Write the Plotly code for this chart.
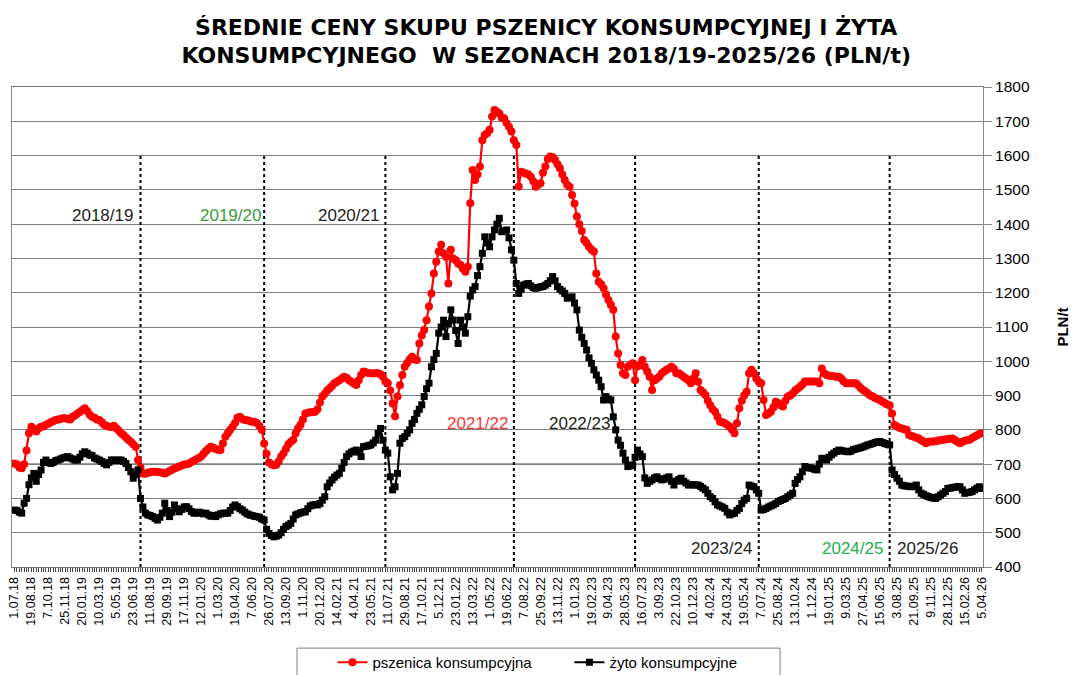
import pandas as pd
import plotly.graph_objects as go

# ---------------- data ----------------
MISSING_WEEKS = ['30.12.18', '21.04.19', '29.12.19', '27.12.20', '31.12.23', '31.03.24']

TICK_LABELS = [
    '1.07.18', '19.08.18', '7.10.18', '25.11.18', '20.01.19', '10.03.19', '5.05.19', '23.06.19',
    '11.08.19', '29.09.19', '17.11.19', '12.01.20', '1.03.20', '19.04.20', '7.06.20', '26.07.20',
    '13.09.20', '1.11.20', '20.12.20', '14.02.21', '4.04.21', '23.05.21', '11.07.21', '29.08.21',
    '17.10.21', '5.12.21', '23.01.22', '13.03.22', '1.05.22', '19.06.22', '7.08.22', '25.09.22',
    '13.11.22', '1.01.23', '19.02.23', '9.04.23', '28.05.23', '16.07.23', '3.09.23', '22.10.23',
    '10.12.23', '4.02.24', '24.03.24', '19.05.24', '7.07.24', '25.08.24', '13.10.24', '1.12.24',
    '19.01.25', '9.03.25', '27.04.25', '15.06.25', '3.08.25', '21.09.25', '9.11.25', '28.12.25',
    '15.02.26', '5.04.26',
]

WHEAT = [
    702, 700, 690, 688, 700, 740, 790, 809, 800, 795,
    805, 809, 810, 815, 818, 822, 825, 829, 830, 832,
    834, 834, 832, 830, 838, 842, 848, 852, 858, 863,
    855, 845, 838, 835, 830, 829, 822, 815, 812, 809,
    808, 812, 805, 798, 790, 785, 778, 771, 765, 758,
    751, 712, 690, 673, 672, 675, 676, 678, 678, 677,
    676, 675, 673, 676, 680, 684, 687, 690, 693, 696,
    699, 700, 702, 706, 710, 714, 717, 722, 730, 738,
    745, 751, 748, 744, 742, 741, 760, 780, 790, 800,
    809, 820, 835, 838, 832, 829, 828, 826, 824, 824,
    820, 812, 800, 760, 730, 705, 700, 697, 698, 708,
    722, 732, 745, 758, 765, 771, 790, 805, 815, 830,
    848, 850, 851, 852, 853, 860, 880, 897, 905, 915,
    921, 928, 936, 940, 945, 950, 955, 952, 945, 940,
    935, 931, 945, 960, 970, 968, 966, 965, 965, 965,
    965, 962, 955, 941, 936, 915, 877, 840, 897, 930,
    960, 984, 995, 1005, 1013, 1005, 1004, 1052, 1075, 1091,
    1120, 1160, 1198, 1256, 1290, 1320, 1340, 1315, 1305, 1227,
    1325, 1300, 1295, 1285, 1281, 1270, 1261, 1276, 1461, 1558,
    1529, 1545, 1568, 1645, 1660, 1665, 1675, 1714, 1733, 1728,
    1723, 1710, 1709, 1695, 1684, 1670, 1645, 1631, 1510, 1553,
    1550, 1548, 1545, 1538, 1525, 1509, 1515, 1519, 1550, 1568,
    1590, 1597, 1595, 1587, 1575, 1563, 1545, 1529, 1515, 1509,
    1485, 1460, 1422, 1400, 1380, 1354, 1345, 1334, 1325, 1320,
    1256, 1232, 1225, 1213, 1195, 1179, 1165, 1150, 1072, 1023,
    989, 965, 960, 984, 990, 994, 945, 985, 990, 1004,
    984, 970, 955, 916, 945, 950, 955, 965, 970, 975,
    979, 984, 978, 965, 965, 960, 955, 950, 945, 936,
    950, 965, 940, 916, 910, 902, 885, 872, 860, 853,
    838, 824, 822, 819, 815, 809, 800, 790, 819, 863,
    885, 900, 911, 965, 975, 965, 950, 940, 936, 887,
    843, 848, 853, 865, 882, 878, 872, 868, 885, 897,
    900, 906, 915, 920, 926, 932, 941, 941, 941, 941,
    941, 941, 936, 979, 965, 960, 958, 957, 956, 955,
    955, 950, 942, 936, 936, 936, 936, 936, 930, 922,
    916, 912, 906, 900, 897, 893, 890, 887, 882, 878,
    874, 872, 848, 814, 810, 806, 804, 802, 800, 785,
    782, 780, 777, 775, 770, 766, 761, 765, 766, 766,
    767, 769, 770, 771, 772, 773, 774, 775, 770, 765,
    761, 765, 768, 770, 771, 776, 780, 784, 788, 790,
]

RYE = [
    566, 565, 560, 557, 586, 600, 640, 660, 673, 650,
    670, 683, 705, 712, 705, 702, 705, 710, 712, 715,
    718, 720, 722, 718, 715, 712, 712, 720, 730, 736,
    732, 727, 725, 718, 715, 712, 708, 702, 698, 705,
    712, 712, 710, 712, 712, 708, 702, 690, 678, 659,
    670, 683, 600, 575, 557, 552, 550, 547, 542, 537,
    545, 557, 586, 565, 547, 560, 581, 570, 561, 568,
    575, 576, 570, 562, 557, 557, 560, 558, 555, 557,
    552, 548, 550, 547, 552, 555, 557, 557, 557, 565,
    575, 581, 576, 570, 566, 560, 555, 552, 550, 548,
    547, 545, 540, 537, 510, 498, 492, 488, 490, 493,
    500, 510, 518, 522, 527, 540, 552, 555, 558, 560,
    561, 570, 578, 581, 582, 581, 585, 595, 605, 634,
    645, 654, 662, 668, 673, 688, 705, 722, 730, 735,
    738, 741, 735, 722, 751, 752, 754, 756, 762, 770,
    790, 804, 770, 741, 732, 663, 625, 634, 673, 761,
    775, 780, 790, 800, 819, 830, 848, 860, 873, 897,
    920, 936, 984, 1005, 1023, 1082, 1100, 1120, 1072, 1110,
    1150, 1120, 1090, 1052, 1120, 1100, 1082, 1130, 1190, 1208,
    1218, 1250, 1276, 1315, 1363, 1345, 1334, 1363, 1383, 1400,
    1417, 1378, 1380, 1383, 1360, 1325, 1295, 1227, 1198, 1210,
    1222, 1225, 1227, 1220, 1215, 1213, 1215, 1217, 1218, 1222,
    1227, 1235, 1247, 1235, 1218, 1210, 1205, 1198, 1184, 1186,
    1188, 1170, 1150, 1091, 1070, 1052, 1033, 1010, 994, 975,
    960, 945, 926, 887, 897, 890, 887, 838, 800, 770,
    755, 732, 712, 693, 695, 698, 720, 741, 730, 722,
    660, 644, 650, 654, 660, 663, 658, 654, 656, 660,
    663, 650, 639, 650, 655, 659, 650, 645, 639, 640,
    640, 639, 639, 635, 630, 625, 615, 605, 600, 590,
    581, 578, 575, 571, 560, 552, 555, 557, 565, 571,
    585, 595, 600, 639, 636, 634, 625, 615, 566, 568,
    571, 575, 578, 581, 585, 591, 594, 597, 600, 605,
    610, 615, 644, 655, 663, 678, 693, 690, 689, 688,
    685, 683, 700, 717, 715, 712, 720, 727, 732, 737,
    741, 740, 738, 737, 736, 738, 742, 744, 746, 748,
    750, 753, 756, 758, 760, 763, 765, 766, 763, 760,
    758, 756, 683, 670, 659, 650, 639, 637, 636, 635,
    634, 636, 639, 625, 615, 612, 608, 605, 603, 601,
    600, 605, 610, 615, 620, 629, 630, 632, 633, 634,
    634, 625, 615, 617, 618, 620, 625, 630, 634, 629,
]

SEASON_LINE_WEEKS = ['14.07.19', '12.07.20', '4.07.21', '10.07.22', '25.06.23', '30.06.24', '13.07.25']

SEASON_LABELS = ['2018/19', '2019/20', '2020/21', '2021/22', '2022/23', '2023/24', '2024/25', '2025/26']
SEASON_LABEL_POS = [36.5, 89.3, 137.6, 190.8, 232.9, 291.8, 345.5, 376.8]
SEASON_LABEL_LEVELS = [1424, 1424, 1424, 820, 820, 455, 455, 455]
SEASON_LABEL_COLORS = ['#222222', '#3a9a3a', '#222222', '#ff3333', '#222222', '#222222', '#22b04a', '#222222']

SERIES_NAMES = ['pszenica konsumpcyjna', 'żyto konsumpcyjne']

# ---------------- categories ----------------
def fmt(d):
    return f"{d.day}.{d.month:02d}.{d.year % 100:02d}"

DATES = [fmt(d) for d in pd.date_range('2018-07-01', '2026-04-05', freq='7D') if fmt(d) not in MISSING_WEEKS]
IDX = {d: i for i, d in enumerate(DATES)}

FONT = 'Liberation Sans, Arial, sans-serif'

fig = go.Figure()
fig.add_trace(go.Scatter(
    x=DATES, y=WHEAT, name=SERIES_NAMES[0], mode='lines+markers',
    line=dict(color='#ff0000', width=2.2),
    marker=dict(symbol='circle', size=8, color='#ff0000'),
))
fig.add_trace(go.Scatter(
    x=DATES, y=RYE, name=SERIES_NAMES[1], mode='lines+markers',
    line=dict(color='#000000', width=2.2),
    marker=dict(symbol='square', size=7, color='#000000'),
))

# season separators (dotted verticals)
for wk in SEASON_LINE_WEEKS:
    fig.add_shape(type='line', xref='x', yref='y', x0=IDX[wk], x1=IDX[wk], y0=400, y1=1600,
                  line=dict(color='#000000', width=2, dash='dot'), layer='between')
# black reference line at 700
fig.add_shape(type='line', xref='paper', yref='y', x0=0, x1=1, y0=700, y1=700,
              line=dict(color='#000000', width=1), layer='between')

# season labels
for lab, xp, lev, col in zip(SEASON_LABELS, SEASON_LABEL_POS, SEASON_LABEL_LEVELS, SEASON_LABEL_COLORS):
    fig.add_annotation(x=xp, y=lev, xref='x', yref='y', text=lab, showarrow=False,
                       font=dict(family=FONT, size=17, color=col), xanchor='center', yanchor='middle')

# legend frame
fig.add_shape(type='rect', xref='paper', yref='paper', x0=0.2935, x1=0.791, y0=-0.169, y1=-0.26,
              line=dict(color='#808080', width=1), fillcolor='rgba(0,0,0,0)')

ticktext = [d if d in TICK_LABELS else '' for d in DATES]

fig.update_layout(
    width=1070, height=667,
    margin=dict(l=4, r=95, t=79, b=108, autoexpand=False),
    paper_bgcolor='white', plot_bgcolor='white',
    title=dict(
        text='<b>ŚREDNIE CENY SKUPU PSZENICY KONSUMPCYJNEJ I ŻYTA<br>KONSUMPCYJNEGO  W SEZONACH 2018/19-2025/26 (PLN/t)</b>',
        x=0.503, xanchor='center', y=0.96, yanchor='top', yref='container',
        font=dict(family='DejaVu Sans, sans-serif', size=22, color='#000000'),
    ),
    xaxis=dict(
        type='category', range=[-1.0, len(DATES) - 0.5],
        tickmode='array', tickvals=DATES, ticktext=ticktext,
        tickangle=-90, tickfont=dict(family=FONT, size=12.5, color='#000000'),
        ticks='outside', ticklen=4, tickcolor='#444444', tickwidth=1,
        showgrid=False, showline=True, linecolor='#777777', linewidth=1, mirror=True,
        zeroline=False,
    ),
    yaxis=dict(
        side='right', range=[400, 1800], dtick=100, tick0=400,
        tickfont=dict(family=FONT, size=15.5, color='#000000'),
        ticks='outside', ticklen=8, tickcolor='#888888',
        showgrid=True, gridcolor='#7f7f7f', gridwidth=1,
        showline=True, linecolor='#888888', linewidth=1, mirror=True,
        zeroline=False,
        title=dict(text='<b>PLN/t</b>', font=dict(family=FONT, size=15, color='#000000'), standoff=28),
    ),
    legend=dict(
        orientation='h', x=0.33, xanchor='left', y=-0.199, yanchor='middle',
        font=dict(family=FONT, size=15, color='#000000'),
        bgcolor='rgba(0,0,0,0)', borderwidth=0,
        entrywidth=192, entrywidthmode='pixels', itemwidth=30,
    ),
    showlegend=True,
)

fig.write_html('out.html')
